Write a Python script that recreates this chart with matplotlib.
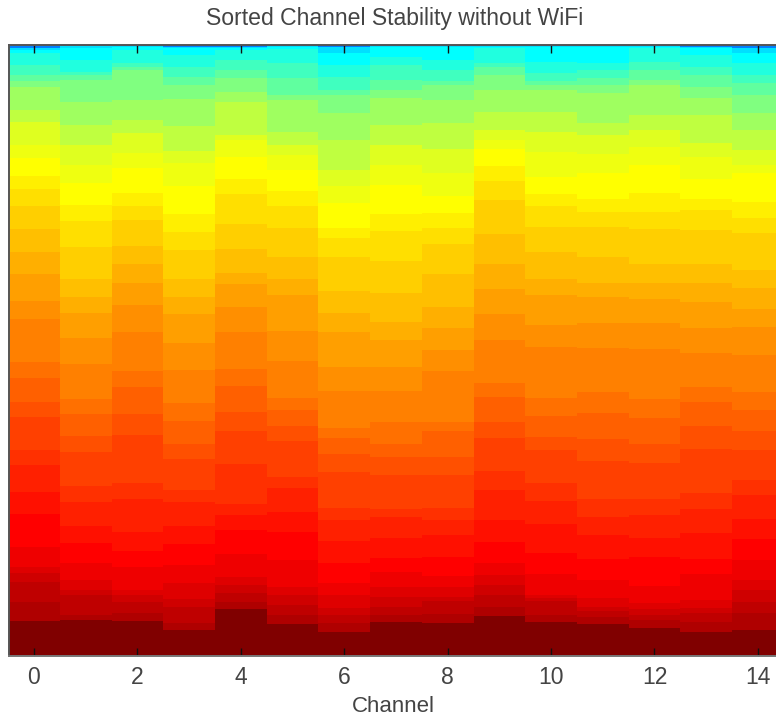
import numpy as np
import matplotlib
matplotlib.use("Agg")
import matplotlib.pyplot as plt
from matplotlib.colors import ListedColormap

plt.rcParams['font.family'] = ['Liberation Sans', 'DejaVu Sans']

TITLE = "Sorted Channel Stability without WiFi"
XLABEL = "Channel"
XTICKS = [0, 2, 4, 6, 8, 10, 12, 14]
N_SAMPLES = 611

# colour level (1..64) of each band, from the least to the most stable samples
LEVELS = [16, 22, 24, 26, 28, 30, 32, 34, 36, 38, 39,
          40, 41, 42, 43, 44, 45, 46, 47, 48, 49, 50, 51, 52, 53, 54, 55, 56,
          57, 58, 59, 60, 61, 64]

# sorted rank at which each channel enters each colour level
ch0 = [0, 3, 5, 8, 20, 30, 36, 42, 65, 77, 100, 113, 131, 144, 161, 184, 207, 229, 256, 274, 317, 333, 357, 372, 405, 420, 447, 469, 502, 522, 528, 537, 557, 576]
ch1 = [0, 1, 3, 15, 27, 30, 35, 57, 80, 100, 120, 138, 160, 176, 202, 234, 252, 268, 293, 319, 354, 369, 391, 407, 441, 457, 481, 498, 518, 535, 545, 550, 570, 575]
ch2 = [0, 1, 2, 5, 18, 22, 25, 55, 75, 88, 108, 123, 148, 161, 175, 201, 219, 238, 260, 287, 326, 342, 369, 390, 438, 454, 487, 506, 522, 545, 550, 557, 568, 576]
ch3 = [0, 2, 3, 10, 22, 32, 40, 54, 81, 106, 118, 141, 169, 187, 205, 234, 252, 269, 298, 325, 358, 376, 399, 414, 445, 457, 481, 499, 520, 538, 554, 562, 578, 585]
ch4 = [0, 2, 3, 5, 15, 25, 33, 47, 57, 90, 95, 112, 134, 149, 179, 204, 228, 239, 262, 287, 324, 341, 367, 386, 419, 459, 470, 485, 509, 532, 540, 548, 557, 564]
ch5 = [0, 1, 2, 4, 18, 33, 50, 55, 87, 100, 110, 125, 146, 161, 183, 212, 234, 250, 286, 316, 353, 365, 381, 396, 432, 443, 467, 487, 515, 542, 550, 560, 570, 579]
ch6 = [0, 2, 8, 20, 32, 45, 50, 68, 95, 125, 141, 158, 183, 193, 212, 246, 268, 287, 322, 346, 383, 393, 409, 427, 463, 475, 496, 518, 538, 550, 563, 570, 578, 587]
ch7 = [0, 1, 2, 12, 20, 35, 45, 53, 80, 100, 120, 140, 169, 186, 216, 248, 277, 295, 322, 346, 377, 399, 412, 430, 464, 472, 493, 513, 527, 542, 552, 562, 570, 577]
ch8 = [0, 1, 2, 15, 25, 36, 40, 55, 78, 104, 128, 151, 168, 183, 199, 229, 262, 283, 305, 326, 377, 386, 412, 430, 463, 475, 490, 512, 531, 542, 552, 556, 569, 578]
ch9 = [0, 1, 2, 3, 18, 22, 30, 45, 67, 85, 95, 104, 121, 136, 155, 189, 219, 244, 269, 295, 338, 352, 377, 393, 426, 445, 475, 497, 518, 530, 540, 550, 562, 571]
ch10 = [0, 1, 2, 17, 28, 36, 40, 45, 67, 87, 107, 132, 149, 161, 182, 207, 234, 250, 280, 302, 353, 371, 392, 405, 438, 456, 479, 508, 529, 550, 553, 556, 570, 577]
ch11 = [0, 1, 2, 18, 25, 33, 40, 48, 78, 90, 109, 128, 154, 167, 182, 212, 238, 252, 278, 303, 347, 368, 394, 416, 454, 472, 490, 514, 535, 553, 562, 566, 572, 579]
ch12 = [0, 1, 2, 3, 17, 25, 35, 40, 70, 85, 102, 120, 148, 167, 184, 219, 238, 254, 278, 304, 354, 373, 399, 418, 454, 470, 493, 512, 541, 558, 564, 570, 575, 583]
ch13 = [0, 2, 3, 10, 22, 30, 42, 53, 70, 98, 112, 134, 154, 165, 185, 219, 238, 257, 283, 308, 342, 357, 381, 404, 448, 464, 488, 514, 529, 555, 563, 568, 577, 587]
ch14 = [0, 3, 8, 18, 30, 38, 50, 68, 85, 105, 120, 128, 157, 173, 188, 225, 243, 264, 282, 310, 347, 365, 386, 405, 435, 450, 474, 494, 515, 535, 545, 557, 568, 585]
channels = [ch0, ch1, ch2, ch3, ch4, ch5, ch6, ch7, ch8, ch9, ch10, ch11, ch12, ch13, ch14]

# MATLAB jet(64)
x = np.arange(1, 65) / 64
lut = np.clip(np.c_[np.minimum(4 * x - 1.5, -4 * x + 4.5),
                    np.minimum(4 * x - 0.5, -4 * x + 3.5),
                    np.minimum(4 * x + 0.5, -4 * x + 2.5)], 0, 1)
cmap = ListedColormap(lut)

W, H = 776, 717
fig = plt.figure(figsize=(W / 100, H / 100), dpi=100)
ax = fig.add_axes([9 / W, (H - 656) / H, (W - 9) / W, 611 / H])

levels = np.array(LEVELS, dtype=float)[:, None]
for c, starts in enumerate(channels):
    edges = np.append(starts, N_SAMPLES)
    ax.pcolormesh([c - 0.5, c + 0.5], edges, levels, cmap=cmap,
                  vmin=0.5, vmax=64.5, shading='flat', antialiased=False)

ax.set_xlim(-0.483, 14.35)
ax.set_ylim(N_SAMPLES, 0)
ax.set_yticks([])
ax.set_xticks(XTICKS)
ax.tick_params(axis='x', which='both', direction='in', top=True, bottom=True,
               length=6, width=1.0, color='#111111', labelsize=16.5,
               labelcolor='#444444', pad=7)
for name, sp in ax.spines.items():
    sp.set_linewidth(1.4)
    sp.set_color('#555555')
ax.spines['right'].set_visible(False)
ax.spines['bottom'].set_color('#777777')

fig.text(395 / W, 1 - 18 / H, TITLE, ha='center', va='center', fontsize=16.6, color='#444444')
fig.text(393.5 / W, 1 - 707 / H, XLABEL, ha='center', va='center', fontsize=16, color='#444444')

fig.savefig("out.png", dpi=100)
